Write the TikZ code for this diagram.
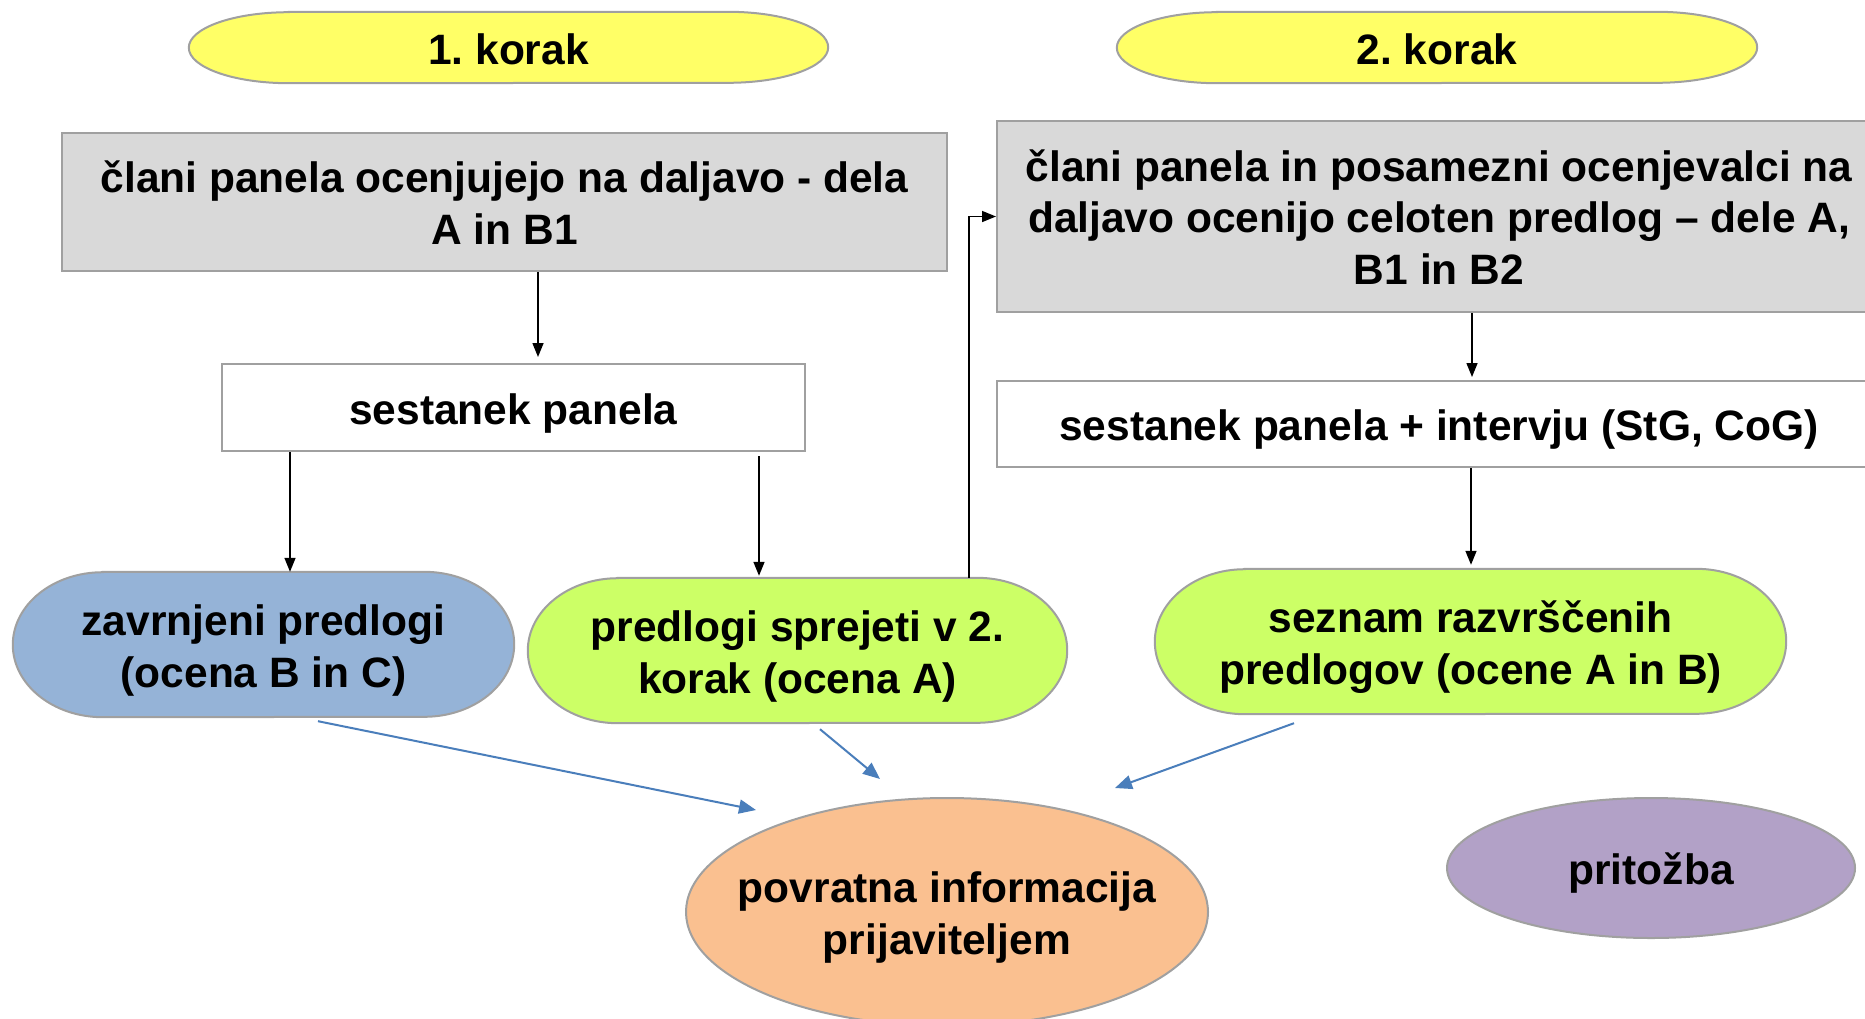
\documentclass[tikz,border=0pt]{standalone}
\usepackage{fontspec}
\setmainfont{Liberation Sans}
\usetikzlibrary{arrows.meta,shapes.geometric,backgrounds,calc}
\frenchspacing
\definecolor{yellowfill}{HTML}{FFFF66}
\definecolor{grayfill}{HTML}{D9D9D9}
\definecolor{bluefill}{HTML}{95B3D7}
\definecolor{greenfill}{HTML}{CCFF66}
\definecolor{orangefill}{HTML}{FAC090}
\definecolor{purplefill}{HTML}{B2A1C7}
\definecolor{bordgray}{HTML}{A0A0A0}
\definecolor{arrowblue}{HTML}{4A7EBB}
\newcommand\mycapsule[4]{%
  \path[draw=bordgray, line width=2pt, fill=#4]
    ([xshift=#2]#1.north west) -- ([xshift=-#2]#1.north east)
    arc[start angle=90, end angle=-90, x radius=#2, y radius=#3]
    -- ([xshift=#2]#1.south west)
    arc[start angle=270, end angle=90, x radius=#2, y radius=#3] -- cycle;}
\newcommand\pst{\rule[-0.212em]{0pt}{\dimexpr1.117em+4pt\relax}}
\begin{document}
\begin{tikzpicture}[x=1pt,y=-1pt,
  every node/.style={font=\fontsize{42.5}{51}\selectfont\bfseries, align=center, inner sep=0pt},
  box/.style={draw=bordgray, line width=2pt, rectangle},
  conn/.style={line width=1.5pt, -{Triangle[length=14pt,width=11pt]}},
  fb/.style={draw=arrowblue, line width=2pt, -{Triangle[length=17pt,width=14pt]}},
  ]
\useasboundingbox (0,0) rectangle (1865,1018);
\clip (0,0) rectangle (1865,1018);

\node[minimum width=639pt, minimum height=71pt] (k1) at (508.5,47.5) {\pst 1. korak};
\node[minimum width=640pt, minimum height=71pt] (k2) at (1437,47.5) {\pst 2. korak};
\node[box, fill=grayfill, minimum width=885pt, minimum height=138pt] (g1) at (504.5,202)
  {\pst člani panela ocenjujejo na daljavo - dela\\A in B1\pst};
\node[box, fill=grayfill, minimum width=884pt, minimum height=191pt] (g2) at (1439,216.5)
  {\pst člani panela in posamezni ocenjevalci na\\daljavo ocenijo celoten predlog – dele A,\\B1 in B2\pst};
\node[box, fill=white, minimum width=583pt, minimum height=87pt] (s1) at (513.5,407.5) {\pst sestanek panela};
\node[box, fill=white, minimum width=884pt, minimum height=86pt] (s2) at (1439,424) {\pst sestanek panela + intervju (StG, CoG)};
\node[minimum width=501pt, minimum height=145pt] (zp) at (263.5,644.5) {\pst zavrnjeni predlogi\\(ocena B in C)\pst};
\node[minimum width=539pt, minimum height=145pt] (ps) at (797.5,650.5) {\pst predlogi sprejeti v 2.\\korak (ocena A)\pst};
\node[minimum width=631pt, minimum height=145pt] (sr) at (1470.5,641.5) {\pst seznam razvrščenih\\predlogov (ocene A in B)\pst};
\node[minimum width=522pt, minimum height=228pt] (pi) at (947,912) {\pst povratna informacija\\prijaviteljem\pst};
\node[minimum width=408pt, minimum height=140pt] (pr) at (1651,868) {\pst pritožba};

\begin{scope}[on background layer]
  \fill[white] (0,0) rectangle (1865,1018);
  \mycapsule{k1}{100pt}{35.5pt}{yellowfill}
  \mycapsule{k2}{100pt}{35.5pt}{yellowfill}
  \mycapsule{zp}{90pt}{72.5pt}{bluefill}
  \mycapsule{ps}{90pt}{72.5pt}{greenfill}
  \mycapsule{sr}{90pt}{72.5pt}{greenfill}
  \path[draw=bordgray, line width=2pt, fill=orangefill] (pi.center) ellipse [x radius=261pt, y radius=114pt];
  \path[draw=bordgray, line width=2pt, fill=purplefill] (pr.center) ellipse [x radius=204pt, y radius=70pt];
\end{scope}

\coordinate (x1) at (538,0);
\coordinate (x2) at (290,0);
\coordinate (x3) at (759,0);
\coordinate (x4) at (969,0);
\coordinate (x5) at (1472,0);
\coordinate (x6) at (1471,0);

\draw[conn, shorten >=6pt] (g1.south -| x1) -- (s1.north -| x1);
\draw[conn] (s1.south -| x2) -- (zp.north -| x2);
\draw[conn, shorten <=4pt, shorten >=2pt] (s1.south -| x3) -- (ps.north -| x3);
\draw[conn] (ps.north -| x4) |- (g2.west);
\draw[conn, shorten >=3pt] (g2.south -| x5) -- (s2.north -| x5);
\draw[conn, shorten >=4pt] (s2.south -| x6) -- (sr.north -| x6);

\coordinate (b1e) at (756,810);
\coordinate (b2e) at (880,779);
\coordinate (b3e) at (1115,788);
\draw[fb] ([xshift=54.5pt,yshift=-4pt]zp.south) -- (b1e);
\draw[fb] ([xshift=22.5pt,yshift=-6pt]ps.south) -- (b2e);
\draw[fb] ([xshift=-176.5pt,yshift=-9pt]sr.south) -- (b3e);
\end{tikzpicture}
\end{document}
